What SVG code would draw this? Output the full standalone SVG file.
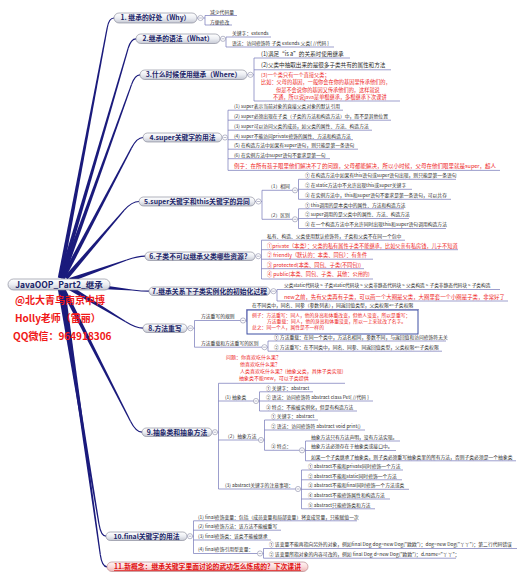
<svg xmlns="http://www.w3.org/2000/svg" xmlns:xlink="http://www.w3.org/1999/xlink" width="526" height="580" viewBox="0 0 526 580">
<defs>
<linearGradient id="pg" x1="0" y1="0" x2="0" y2="1"><stop offset="0" stop-color="#ffffff"/><stop offset="0.5" stop-color="#eceef3"/><stop offset="1" stop-color="#c6c9d4"/></linearGradient>
<linearGradient id="pk" x1="0" y1="0" x2="0" y2="1"><stop offset="0" stop-color="#fff4f4"/><stop offset="0.5" stop-color="#fbdcdc"/><stop offset="1" stop-color="#eeb4b4"/></linearGradient>
<g id="col"><circle r="2.6" fill="#fff" stroke="#8a8ca8" stroke-width="0.6"/><line x1="-1.4" x2="1.4" y1="0" y2="0" stroke="#8a8ca8" stroke-width="0.6"/></g>
</defs>
<style>
text{font-family:"Noto Sans CJK SC","Noto Sans",sans-serif}
.nt{font-size:6.8px;font-weight:bold;fill:#1b2568;text-anchor:middle}
.pill{fill:url(#pg);stroke:#7d8090;stroke-width:0.6}
.t{font-size:4.8px;fill:#2a2a2a}
.t3{font-size:5.6px;fill:#2a2a2a}
.r{fill:#ee1c1c}
.ln{stroke:#7276b8;stroke-width:0.7;fill:none}
.cf{fill:#1a1a7c}
.cs{stroke:#1a1a7c;stroke-width:1.2;fill:none}
</style>
<rect width="526" height="580" fill="#fff"/>
<g id="connectors">
<polygon class="cf" points="62.16,278.41 107.79,27.91 106.61,27.69 57.84,277.59"/><path class="cs" d="M107.2,27.8 Q109,18 114,18"/>
<polygon class="cf" points="63.11,278.62 128.78,48.27 127.62,47.93 58.89,277.38"/><path class="cs" d="M128.2,48.1 Q131,38.8 136,38.8"/>
<polygon class="cf" points="64.07,278.74 132.16,84.6 131.04,84.2 59.93,277.26"/><path class="cs" d="M131.6,84.4 Q135,74.8 140,74.8"/>
<polygon class="cf" points="64.95,279.03 131.93,148.38 130.87,147.82 61.05,276.97"/><path class="cs" d="M131.4,148.1 Q137,137.5 143,137.5"/>
<polygon class="cf" points="67.67,279.43 124.66,210.49 123.74,209.71 64.33,276.57"/><path class="cs" d="M124.2,210.1 Q132,201.5 139,201.5"/>
<polygon class="cf" points="70.73,282.07 126.9,260.57 126.5,259.43 69.27,277.93"/><path class="cs" d="M126.7,260 Q138,256.2 145,256.2"/>
<polygon class="cf" points="95.79,288.69 131.94,290.6 132.06,289.4 96.21,284.31"/><path class="cs" d="M132,290 Q142,291.2 149,291.2"/>
<polygon class="cf" points="68.86,289.88 125.39,322.31 126.01,321.29 71.14,286.12"/><path class="cs" d="M125.7,321.8 Q136,328.2 143,328.2"/>
<polygon class="cf" points="61.04,290 129.97,421.57 131.03,421.03 64.96,288"/><path class="cs" d="M130.5,421.3 Q136,432.2 142,432.2"/>
<polygon class="cf" points="57.83,289.36 98.41,524.3 99.59,524.1 62.17,288.64"/><path class="cs" d="M99,524.2 Q101,536.2 106,536.2"/>
<polygon class="cf" points="60.82,289.31 99.71,554.68 100.89,554.52 65.18,288.69"/><path class="cs" d="M100.3,554.6 Q102,566.8 107,566.8"/>
</g>
<g id="root">
<rect class="pill" x="8" y="279" width="102" height="11" rx="5.5"/>
<text class="nt" x="59" y="287.9" style="font-size:8.5px">JavaOOP_Part2_继承</text>
<g style="font-size:10px;font-weight:bold;fill:#f01818">
<text x="15" y="304">@北大青鸟南京中博</text>
<text x="15" y="321.8">Holly老师（雷丽）</text>
<text x="13" y="339.8">QQ微信：964918306</text>
</g>
</g>
<g id="n1">
<rect class="pill" x="114" y="13" width="83" height="10" rx="5"/>
<text class="nt" x="155.5" y="20.4">1. 继承的好处（Why）</text>
<path class="ln" d="M197,18 H205 M205,15.5 V25 M205,15.5 H237 M205,25 H232"/>
<use xlink:href="#col" x="200.5" y="18"/>
<text class="t" x="210" y="14.1">减少代码量</text>
<text class="t" x="210" y="23.6">方便修改</text>
</g>
<g id="n2">
<rect class="pill" x="136" y="34" width="84" height="9.5" rx="4.75"/>
<text class="nt" x="178" y="40.9">2.继承的语法（What）</text>
<path class="ln" d="M220,38.8 H226 M226,37 V47 M226,37 H271 M226,47 H334"/>
<use xlink:href="#col" x="223" y="38.8"/>
<text class="t" x="232" y="35.3">关键字：extends</text>
<text class="t" x="232" y="45.3">语法：访问修饰符 子类 extends 父类{ //代码 }</text>
</g>
<g id="n3">
<rect class="pill" x="140" y="70" width="107" height="9.5" rx="4.75"/>
<text class="nt" x="193.5" y="76.9">3.什么时候使用继承（Where）</text>
<path class="ln" d="M247,74.8 H254 M254,58 V101 M254,58 H350 M254,69.8 H391 M254,101 H400"/>
<use xlink:href="#col" x="250.5" y="74.8"/>
<text class="t3" x="261" y="55.6">(1)满足“is a”的关系时使用继承</text>
<text class="t3" x="261" y="67.2">(2)父类中抽取出来的是很多子类共有的属性和方法</text>
<g class="r" style="font-size:5.2px">
<text x="261" y="77.2">(3)一个类只有一个直接父类；</text>
<text x="261" y="84.4">比如：父母的基因，一般你会在你的基因里传承他们的，</text>
<text x="276" y="91.6">但是不会说你的基因又传承他们的，这样就说</text>
<text x="273" y="98.8">不通，所以说java是单根继承，多根继承下次课讲</text>
</g>
</g>
<g id="n4">
<rect class="pill" x="143" y="133" width="79" height="9" rx="4.5"/>
<text class="nt" x="182.5" y="139.8">4.super关键字的用法</text>
<path class="ln" d="M222,137.5 H228 M228,110.2 V170.4 M228,110.2 H343 M228,120.2 H391 M228,130.2 H372 M228,139.7 H353 M228,149.2 H358 M228,158.7 H330 M228,170.4 H500"/>
<use xlink:href="#col" x="225" y="137.5"/>
<text class="t" x="234" y="108">(1) super表示当前对象的直接父类对象的默认引用</text>
<text class="t" x="234" y="118">(2) super必须出现在子类（子类的方法和构造方法）中，而不是其他位置</text>
<text class="t" x="234" y="128">(3) super可以访问父类的成员，如父类的属性、方法、构造方法</text>
<text class="t" x="234" y="137.5">(4) super不能访问private修饰的属性、方法和构造方法</text>
<text class="t" x="234" y="147">(5) 在构造方法中如果有super语句，则只能是第一条语句</text>
<text class="t" x="234" y="156.5">(6) 在实例方法中super语句不要求是第一句</text>
<text class="r" x="234" y="168" style="font-size:5.5px">例子：在所有孩子眼里他们解决不了的问题，父母都能解决，所以小时候，父母在他们眼里就是super，超人</text>
</g>
<g id="n5">
<rect class="pill" x="139" y="197" width="116" height="9" rx="4.5"/>
<text class="nt" x="197" y="203.6">5.super关键字和this关键字的异同</text>
<path class="ln" d="M255,201.5 H262 M262,190.3 V219.3 M262,190.3 H292 M262,219.3 H292 M292,190.3 H298.5 M298.5,179.3 V199.3 M298.5,179.3 H456 M298.5,189.3 H412 M298.5,199.3 H451 M292,219.3 H298.5 M298.5,208.8 V228.5 M298.5,208.8 H404 M298.5,218.5 H409 M298.5,228.5 H446"/>
<use xlink:href="#col" x="258.5" y="201.5"/>
<use xlink:href="#col" x="295" y="190.3"/>
<use xlink:href="#col" x="295" y="219.3"/>
<text class="t" x="268" y="188">（1）相同</text>
<text class="t" x="268" y="217">（2）区别</text>
<text class="t" x="305" y="177.2">① 在构造方法中如果有this语句或super语句出现，则只能是第一条语句</text>
<text class="t" x="305" y="187">② 在static方法中不允许出现this或super关键字</text>
<text class="t" x="305" y="197">③ 在实例方法中，this和super语句不要求是第一条语句，可以共存</text>
<text class="t" x="305" y="206.6">① this调用的是本类中的属性、方法和构造方法</text>
<text class="t" x="305" y="216.3">② super调用的是父类中的属性、方法、构造方法</text>
<text class="t" x="305" y="226.3">③ 在一个构造方法中不允许同时出现this和super语句调用构造方法</text>
</g>
<g id="n6">
<rect class="pill" x="145" y="252" width="110" height="8.5" rx="4.25"/>
<text class="nt" x="200" y="258.5">6.子类不可以继承父类哪些资源？</text>
<path class="ln" d="M255,256.2 H261.5 M261.5,240.2 V279 M261.5,240.2 H405 M261.5,249.7 H458 M261.5,259.2 H373 M261.5,268.7 H364 M261.5,279 H373"/>
<use xlink:href="#col" x="258.3" y="256.2"/>
<text class="t" x="267" y="238">私有、构造、父类使用默认修饰符，子类和父类不在同一个包中</text>
<g class="r" style="font-size:5.2px">
<text x="267" y="247.5">①private（本类）：父类的私有属性子类不能继承，比如父亲有私房钱，儿子不知道</text>
<text x="267" y="257">② friendly（默认的：本类、同包）：有条件</text>
<text x="267" y="266.5">③ protected(本类、同包、子类(不同包))</text>
<text x="267" y="276.3">④ public(本类、同包、子类、其他：公用的)</text>
</g>
</g>
<g id="n7">
<rect class="pill" x="149" y="287" width="121" height="8.5" rx="4.25"/>
<text class="nt" x="209.5" y="293.5">7.继承关系下子类实例化的初始化过程</text>
<path class="ln" d="M270,291.2 H277 M277,289.5 V301 M277,289.5 H500 M277,301 H508"/>
<use xlink:href="#col" x="273.5" y="291.2"/>
<text class="t" x="284" y="287.4" style="font-size:4.7px">父类static代码块 &gt; 子类static代码块 &gt; 父类非静态代码块 &gt; 父类构造 &gt; 子类非静态代码块 &gt; 子类构造</text>
<text class="r" x="284" y="299" style="font-size:5.4px">new之前，先有父类再有子类，可以画一个大圈是父类，大圈里套一个小圈是子类，非常好了</text>
</g>
<g id="n8">
<rect class="pill" x="143" y="324" width="44" height="8.5" rx="4.25"/>
<text class="nt" x="165" y="330.5">8.方法重写</text>
<rect x="247" y="310" width="171" height="24" fill="#fff" stroke="#3c4fa3" stroke-width="1"/>
<path class="ln" d="M187,328.2 H194.5 M194.5,320.5 V347.2 M194.5,320.5 H240 M194.5,347.2 H261 M240,320.5 H246.5 M246.5,309.5 V322 M246.5,309.5 H419 M261,347.2 H268 M268,341 V351.2 M268,341 H446 M268,351.2 H442"/>
<use xlink:href="#col" x="190.5" y="328.2"/>
<use xlink:href="#col" x="243" y="320.5"/>
<use xlink:href="#col" x="264.5" y="347.2"/>
<text class="t" x="201" y="318.3">方法重写的规则</text>
<text class="t" x="252" y="307.3">在不同类中，同名、同参（参数列表），同返回值类型，父类权限&lt;=子类权限</text>
<g class="r" style="font-size:4.8px">
<text x="252" y="317.2">例子：方法重写：同人，他的身高和体重改变，但他人没变，所以是重写；</text>
<text x="267" y="323.2">方法重载：同人，他的身高和体重没变，所以一上来就改了名字。</text>
<text x="252" y="329.2">总之：同一个人，属性是不一样的</text>
</g>
<text class="t" x="201" y="345">方法重载和方法重写的区别</text>
<text class="t" x="274" y="338.8">① 方法重载：在同一个类中，方法名相同，参数不同，与返回值和访问修饰符无关</text>
<text class="t" x="274" y="349">② 方法重写：在不同类中，同名、同参、同返回值类型，父类权限&lt;=子类权限</text>
</g>
<g id="n9">
<rect class="pill" x="142" y="428" width="70" height="8.5" rx="4.25"/>
<text class="nt" x="177" y="434.5">9.抽象类和抽象方法</text>
<path class="ln" d="M212,432.2 H218.5 M218.5,383.3 V489 M218.5,383.3 H345 M218.5,401 H253 M218.5,440 H258 M218.5,489 H295 M253,401 H259.5 M259.5,391.8 V411 M259.5,391.8 H313 M259.5,401 H373 M259.5,411 H357 M258,440 H264.5 M264.5,420 V450.3 M264.5,420 H318 M264.5,430 H365 M264.5,450.3 H299 M299,450.3 H305.5 M305.5,441 V460.8 M305.5,441 H400 M305.5,450.5 H396 M305.5,460.8 H516 M295,489 H301.5 M301.5,470 V508.8 M301.5,470 H403 M301.5,479.8 H402 M301.5,489.3 H409 M301.5,499 H390 M301.5,508.8 H375"/>
<use xlink:href="#col" x="215" y="432.2"/>
<use xlink:href="#col" x="256" y="401"/>
<use xlink:href="#col" x="261" y="440"/>
<use xlink:href="#col" x="302" y="450.3"/>
<use xlink:href="#col" x="298" y="489"/>
<g class="r" style="font-size:5px">
<text x="226" y="359">问题：你喜欢吃什么果？</text>
<text x="240" y="366">他喜欢吃什么果？</text>
<text x="240" y="373">人类喜欢吃什么果？(抽象父类，具体子类实现)</text>
<text x="239" y="380">抽象类不能new，可以子类提供</text>
</g>
<text class="t" x="225" y="398.8">(1) 抽象类</text>
<text class="t" x="266" y="389.6">① 关键字：abstract</text>
<text class="t" x="266" y="398.8">② 语法：访问修饰符 abstract class Pet{ //代码 }</text>
<text class="t" x="266" y="408.8">③ 特点：不能被实例化，但是有构造方法</text>
<text class="t" x="225" y="437.8">（2）抽象方法</text>
<text class="t" x="271" y="417.8">① 关键字：abstract</text>
<text class="t" x="271" y="427.8">② 语法：访问修饰符 abstract void print()</text>
<text class="t" x="271" y="448">③ 特点：</text>
<text class="t" x="311" y="438.8">抽象方法只有方法声明，没有方法实现。</text>
<text class="t" x="311" y="448.2">抽象方法必须存在于抽象类或接口中。</text>
<text class="t" x="311" y="458.5">如果一个子类继承了抽象类，则子类必须重写抽象类里的所有方法，否则子类必须是一个抽象类</text>
<text class="t" x="225" y="486.8">(3) abstract关键字的注意事项：</text>
<text class="t" x="308" y="467.8">① abstract不能和private同时修饰一个方法</text>
<text class="t" x="308" y="477.6">② abstract不能和static同时修饰一个方法</text>
<text class="t" x="308" y="487">③ abstract不能和final同时修饰一个方法或类</text>
<text class="t" x="308" y="496.8">④ abstract不能修饰属性和构造方法</text>
<text class="t" x="308" y="506.5">⑤ abstract只能修饰类和方法</text>
</g>
<g id="n10">
<rect class="pill" x="106" y="532" width="81" height="8.5" rx="4.25"/>
<text class="nt" x="146.5" y="538.5">10.final关键字的用法</text>
<path class="ln" d="M187,536.2 H193.5 M193.5,520.8 V553.5 M193.5,520.8 H357 M193.5,530.2 H281 M193.5,540 H271 M193.5,553.5 H257 M257,553.5 H263.5 M263.5,548.5 V558.2 M263.5,548.5 H517 M263.5,558.2 H456"/>
<use xlink:href="#col" x="190" y="536.2"/>
<use xlink:href="#col" x="260" y="553.5"/>
<text class="t" x="198" y="518.6">(1) final修饰变量：包括（成员变量和局部变量）将变成常量，只能赋值一次</text>
<text class="t" x="198" y="528">(2) final修饰方法：该方法不能被重写</text>
<text class="t" x="198" y="537.8">(3) final修饰类：该类不能被继承</text>
<text class="t" x="198" y="551.3">(4) final修饰引用型变量：</text>
<text class="t" x="269" y="546.3">① 该变量不能再指向另外的对象，例如final Dog dog=new Dog("欧欧")；dog=new Dog("丫丫")；第二行代码错误</text>
<text class="t" x="269" y="556">② 该变量所指对象的内容可改的，例如 final Dog d=new Dog("欧欧")；d.name="丫丫"；</text>
</g>
<g id="n11">
<rect x="107" y="562" width="201" height="9.5" rx="4.75" fill="url(#pk)" stroke="#b07b80" stroke-width="0.6"/>
<text class="nt" x="207.5" y="569.3" style="fill:#e01010;text-decoration:underline">11.新概念：继承关键字里面讨论的武功怎么炼成的？下次课讲</text>
</g>
</svg>
